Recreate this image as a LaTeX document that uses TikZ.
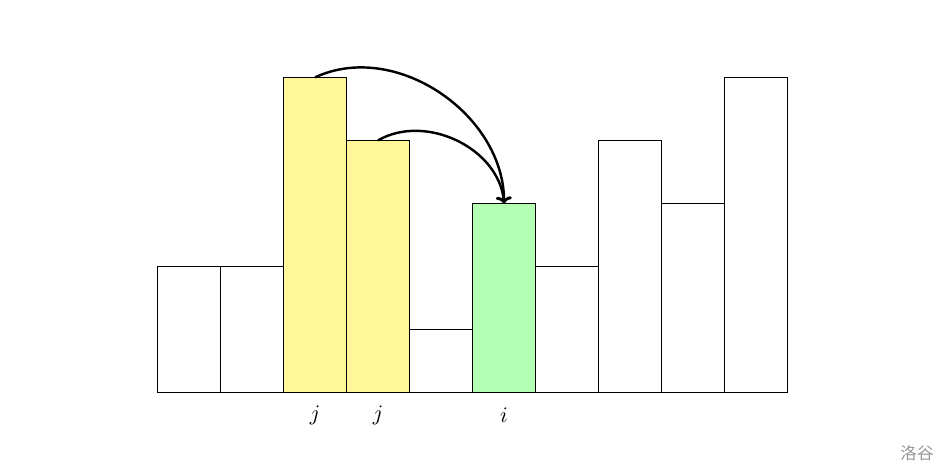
\documentclass[tikz,border=0pt]{standalone}
\usepackage{fontspec}
\newfontfamily\cjk{Noto Sans CJK SC}
\usetikzlibrary{arrows.meta}
\definecolor{baryellow}{RGB}{255,247,153}
\definecolor{bargreen}{RGB}{179,255,179}
\definecolor{wmgray}{RGB}{150,150,150}
\begin{document}
\begin{tikzpicture}[x=1cm,y=1cm,
  bar/.style={draw=black, line width=0.5pt, rectangle, anchor=south west, inner sep=0pt, minimum width=1cm},
  jump/.style={line width=1.1pt, -{To[length=3pt,width=7pt]}},
  lab/.style={inner sep=0pt}]
\useasboundingbox (0,0) rectangle (15,7.508);
\def\bx{2.492}
\def\by{1.262}
\foreach \h [count=\k] in {2,2,5,4,1,3,2,4,3,5}{
  \pgfmathsetmacro\xx{\bx+\k-1}
  \ifnum\k=3 \def\fc{baryellow}\else\ifnum\k=4 \def\fc{baryellow}\else\ifnum\k=6 \def\fc{bargreen}\else\def\fc{white}\fi\fi\fi
  \node[bar, fill=\fc, minimum height=\h cm] (b\k) at (\xx,\by) {};
}
\node[lab] (l3) at ([yshift=-0.35cm]b3.south) {$j$};
\node[lab] (l4) at ([yshift=-0.35cm]b4.south) {$j$};
\node[lab] (l6) at ([yshift=-0.35cm]b6.south) {$i$};
\draw[jump] (b3.north) to[out=25, in=90] (b6.north);
\draw[jump] (b4.north) to[out=30, in=95] (b6.north);
\node[text=wmgray, font=\cjk\fontsize{7.5}{9}\selectfont] (wm) at (14.556,0.317) {洛谷};
\end{tikzpicture}
\end{document}
